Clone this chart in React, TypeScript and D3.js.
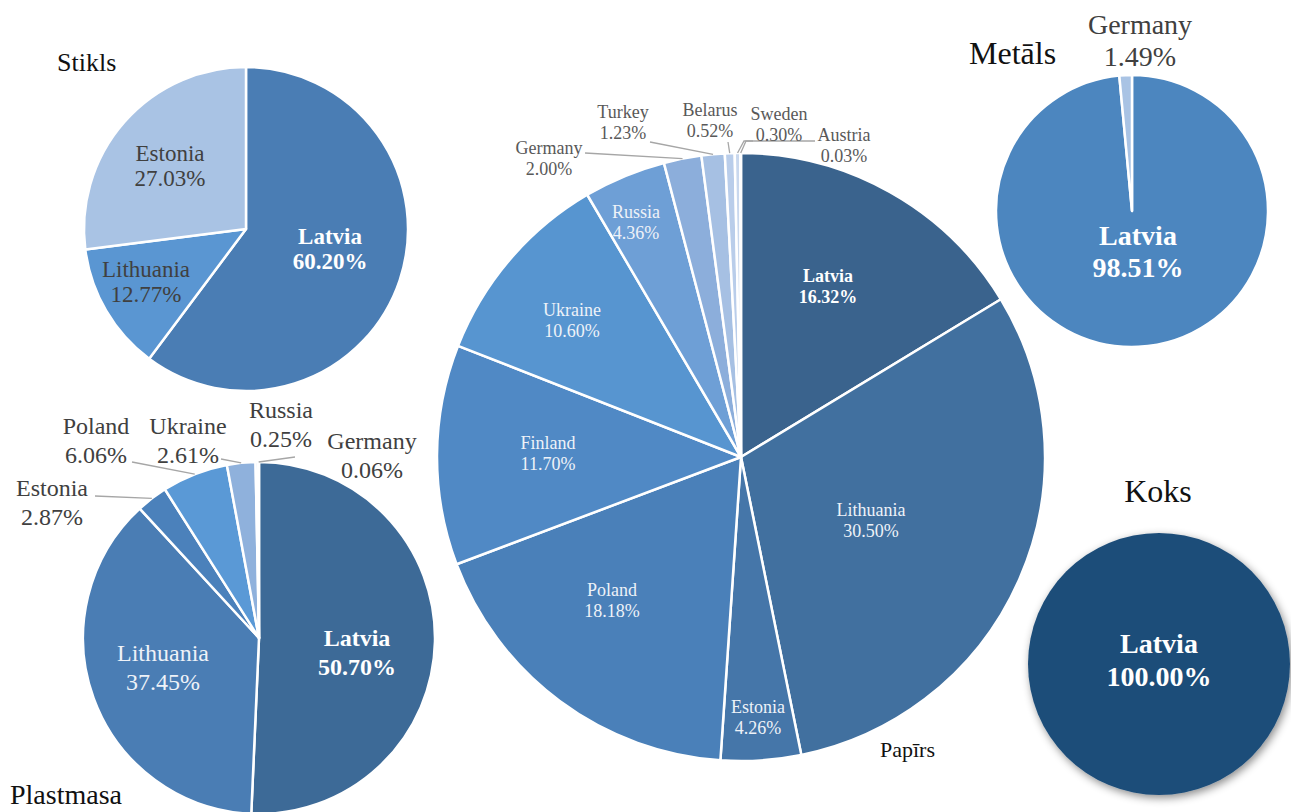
import React from "react";
import * as d3 from "d3";

// ---------- DATA ----------
const stiklsCountries = ["Latvia", "Lithuania", "Estonia"];
const stiklsValues = [60.2, 12.77, 27.03];

const plastmasaCountries = ["Latvia", "Lithuania", "Estonia", "Poland", "Ukraine", "Russia", "Germany"];
const plastmasaValues = [50.7, 37.45, 2.87, 6.06, 2.61, 0.25, 0.06];

const papirsCountries = ["Latvia", "Lithuania", "Estonia", "Poland", "Finland", "Ukraine", "Russia", "Germany", "Turkey", "Belarus", "Sweden", "Austria"];
const papirsValues = [16.32, 30.5, 4.26, 18.18, 11.7, 10.6, 4.36, 2.0, 1.23, 0.52, 0.3, 0.03];

const metalsCountries = ["Latvia", "Germany"];
const metalsValues = [98.51, 1.49];

const koksCountries = ["Latvia"];
const koksValues = [100.0];

// ---------- LAYOUT / STYLE ----------
type LabelSpec = {
  dx: number;
  dy: number;
  color: string;
  bold?: boolean;
  leader?: [number, number][]; // relative points after slice edge point
};

type PieSpec = {
  title: string;
  titleX: number;
  titleY: number;
  titleSize: number;
  titleAnchor: "start" | "middle";
  cx: number;
  cy: number;
  r: number;
  countries: string[];
  values: number[];
  colors: string[];
  fontSize: number;
  lineH: number;
  labels: (LabelSpec | null)[];
  shadow?: boolean;
};

const DARK = "#404040";
const GREYTXT = "#595959";
const LIGHT = "#eef2f8";

const pies: PieSpec[] = [
  {
    title: "Stikls", titleX: 57, titleY: 71, titleSize: 26, titleAnchor: "start",
    cx: 246, cy: 229, r: 162,
    countries: stiklsCountries, values: stiklsValues,
    colors: ["#4a7db4", "#5a96d2", "#a9c3e4"],
    fontSize: 23, lineH: 25,
    labels: [
      { dx: 84, dy: 19, color: "#ffffff", bold: true },
      { dx: -100, dy: 52, color: DARK },
      { dx: -76, dy: -64, color: DARK },
    ],
  },
  {
    title: "Plastmasa", titleX: 10, titleY: 804, titleSize: 28, titleAnchor: "start",
    cx: 259, cy: 638, r: 176,
    countries: plastmasaCountries, values: plastmasaValues,
    colors: ["#3d6a97", "#4a7db4", "#4b81bb", "#5a99d6", "#8fb1dc", "#b7cce9", "#d2def0"],
    fontSize: 24, lineH: 29,
    labels: [
      { dx: 98, dy: 14, color: "#ffffff", bold: true },
      { dx: -96, dy: 29, color: LIGHT },
      { dx: -207, dy: -136, color: DARK, leader: [[-164, -142]] },
      { dx: -163, dy: -198, color: DARK, leader: [[-127, -176]] },
      { dx: -71, dy: -198, color: DARK, leader: [[-38, -179]] },
      { dx: 22, dy: -214, color: DARK },
      { dx: 113, dy: -183, color: DARK, leader: [[36, -181]] },
    ],
  },
  {
    title: "Papīrs", titleX: 880, titleY: 757, titleSize: 22, titleAnchor: "start",
    cx: 741, cy: 457, r: 304,
    countries: papirsCountries, values: papirsValues,
    colors: ["#3a638d", "#41709f", "#4576a9", "#4a80b9", "#5089c5", "#5795d0", "#6e9fd6", "#8caedb", "#a6c0e3", "#b9cdea", "#c9d8ee", "#d9e3f2"],
    fontSize: 18, lineH: 21,
    labels: [
      { dx: 87, dy: -171, color: "#ffffff", bold: true },
      { dx: 130, dy: 63, color: LIGHT },
      { dx: 17, dy: 260, color: LIGHT },
      { dx: -129, dy: 143, color: LIGHT },
      { dx: -193, dy: -4, color: LIGHT },
      { dx: -169, dy: -137, color: LIGHT },
      { dx: -105, dy: -235, color: LIGHT },
      { dx: -192, dy: -299, color: GREYTXT, leader: [[-156, -304]] },
      { dx: -118, dy: -335, color: GREYTXT, leader: [[-91, -315]] },
      { dx: -31, dy: -337, color: GREYTXT, leader: [[-13, -315]] },
      { dx: 38, dy: -333, color: GREYTXT, leader: [[3, -316], [12, -316]] },
      { dx: 103, dy: -312, color: GREYTXT, leader: [[5, -316], [74, -316]] },
    ],
  },
  {
    title: "Metāls", titleX: 969, titleY: 64, titleSize: 32, titleAnchor: "start",
    cx: 1132, cy: 211, r: 136,
    countries: metalsCountries, values: metalsValues,
    colors: ["#4c86bf", "#a9c3e4"],
    fontSize: 28, lineH: 32,
    labels: [
      { dx: 6, dy: 40, color: "#ffffff", bold: true },
      { dx: 8, dy: -171, color: DARK },
    ],
  },
  {
    title: "Koks", titleX: 1158, titleY: 502, titleSize: 32, titleAnchor: "middle",
    cx: 1159, cy: 664, r: 131,
    countries: koksCountries, values: koksValues,
    colors: ["#1f4e79"],
    fontSize: 28, lineH: 33,
    labels: [{ dx: 0, dy: -5, color: "#ffffff", bold: true }],
    shadow: true,
  },
];

const FONT = "'Liberation Serif', 'Times New Roman', serif";

function Pie({ spec }: { spec: PieSpec }) {
  const pieGen = d3
    .pie<number>()
    .sort(null)
    .value((d) => d)
    .startAngle(0)
    .endAngle(2 * Math.PI);
  const arcs = pieGen(spec.values);
  const arcGen = d3.arc<d3.PieArcDatum<number>>().innerRadius(0).outerRadius(spec.r);
  const single = spec.values.length === 1;

  return (
    <g>
      <g transform={`translate(${spec.cx},${spec.cy})`}>
        {single ? (
          <circle r={spec.r} fill={spec.colors[0]} filter={spec.shadow ? "url(#koksShadow)" : undefined} />
        ) : (
          arcs.map((a, i) => (
            <path
              key={i}
              d={arcGen(a) || ""}
              fill={spec.colors[i]}
              stroke="#ffffff"
              strokeWidth={2.5}
              strokeLinejoin="round"
            />
          ))
        )}
        {arcs.map((a, i) => {
          const lab = spec.labels[i];
          if (!lab || !lab.leader) return null;
          const mid = (a.startAngle + a.endAngle) / 2;
          const sx = Math.sin(mid) * spec.r;
          const sy = -Math.cos(mid) * spec.r;
          const pts: [number, number][] = [[sx, sy], ...lab.leader];
          return (
            <polyline
              key={"l" + i}
              points={pts.map((p) => p.join(",")).join(" ")}
              fill="none"
              stroke="#a6a6a6"
              strokeWidth={1.3}
            />
          );
        })}
        {arcs.map((a, i) => {
          const lab = spec.labels[i];
          if (!lab) return null;
          const name = spec.countries[i];
          const pct = d3.format(".2f")(spec.values[i]) + "%";
          return (
            <text
              key={"t" + i}
              fontFamily={FONT}
              fontSize={spec.fontSize}
              fontWeight={lab.bold ? "bold" : "normal"}
              fill={lab.color}
              textAnchor="middle"
              dominantBaseline="central"
            >
              <tspan x={lab.dx} y={lab.dy - spec.lineH / 2}>{name}</tspan>
              <tspan x={lab.dx} y={lab.dy + spec.lineH / 2}>{pct}</tspan>
            </text>
          );
        })}
      </g>
      <text
        x={spec.titleX}
        y={spec.titleY}
        fontFamily={FONT}
        fontSize={spec.titleSize}
        fill="#111111"
        textAnchor={spec.titleAnchor}
      >
        {spec.title}
      </text>
    </g>
  );
}

export default function App() {
  return (
    <svg
      width={1291}
      height={812}
      viewBox="0 0 1291 812"
      style={{ position: "absolute", left: 0, top: 0, display: "block", background: "#ffffff" }}
    >
      <defs>
        <filter id="koksShadow" x="-20%" y="-20%" width="140%" height="140%">
          <feDropShadow dx={2} dy={3} stdDeviation={4} floodColor="#000000" floodOpacity={0.45} />
        </filter>
      </defs>
      <rect width={1291} height={812} fill="#ffffff" />
      {pies.map((p) => (
        <Pie key={p.title} spec={p} />
      ))}
    </svg>
  );
}
